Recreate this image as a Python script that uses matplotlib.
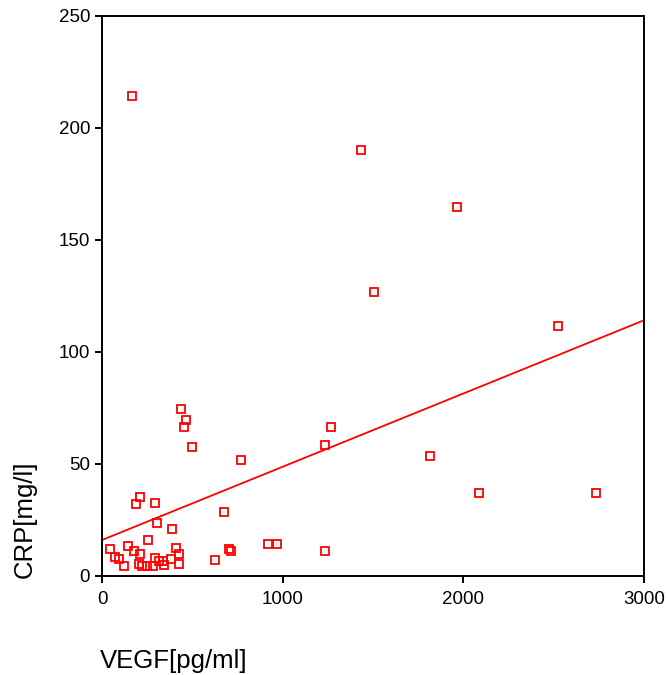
import matplotlib
matplotlib.use("Agg")
import matplotlib.pyplot as plt
import numpy as np

plt.rcParams['font.family'] = ['Liberation Sans', 'DejaVu Sans']

# VEGF [pg/ml] and CRP [mg/l]
vegf = [166, 1433, 1965, 1505, 2523, 437, 465, 454, 1267, 1234,
        498, 769, 1815, 2086, 2734, 210, 188, 293, 304, 675,
        387, 255, 44, 144, 177, 210, 72, 94, 122, 205,
        221, 249, 282, 293, 315, 338, 343, 382, 410, 426,
        426, 625, 703, 714, 919, 968, 1234]
crp = [214.3, 190.2, 164.7, 126.8, 111.6, 74.6, 69.6, 66.5, 66.5, 58.5,
       57.6, 51.8, 53.6, 37.1, 37.1, 35.3, 32.1, 32.6, 23.7, 28.6,
       21.0, 16.1, 12.1, 13.4, 11.2, 9.8, 8.5, 7.6, 4.5, 5.4,
       4.5, 4.5, 4.5, 8.0, 6.7, 6.7, 4.9, 7.6, 12.5, 9.8,
       5.4, 7.1, 12.1, 11.2, 14.3, 14.3, 11.2]

x_ticks = [0, 1000, 2000, 3000]
y_ticks = [0, 50, 100, 150, 200, 250]

fig = plt.figure(figsize=(6.68, 6.75), dpi=100)
ax = fig.add_axes([102/668, 99/675, 542/668, 560/675])

ax.plot(vegf, crp, linestyle='none', marker='s', markersize=6.4,
        markerfacecolor='none', markeredgecolor='#ff0000', markeredgewidth=1.3)

# linear fit line
k, b = np.polyfit(vegf, crp, 1)
xl = np.array([0, 3000])
ax.plot(xl, k*xl + b, color='#ff0000', linewidth=1.3)

ax.set_xlim(0, 3000)
ax.set_ylim(0, 250)
ax.set_xticks(x_ticks)
ax.set_yticks(y_ticks)
ax.tick_params(direction='out', length=5, width=1.4, labelsize=13.5, colors='black')
ax.tick_params(axis='x', pad=6)
for s in ax.spines.values():
    s.set_linewidth(1.4)

fig.text(100/668, 1 - 661/675, 'VEGF[pg/ml]', fontsize=18.5, ha='left', va='center')
fig.text(25/668, 1 - 519/675, 'CRP[mg/l]', fontsize=18.5, rotation=90, ha='center', va='center')

fig.savefig('out.png', dpi=100)
